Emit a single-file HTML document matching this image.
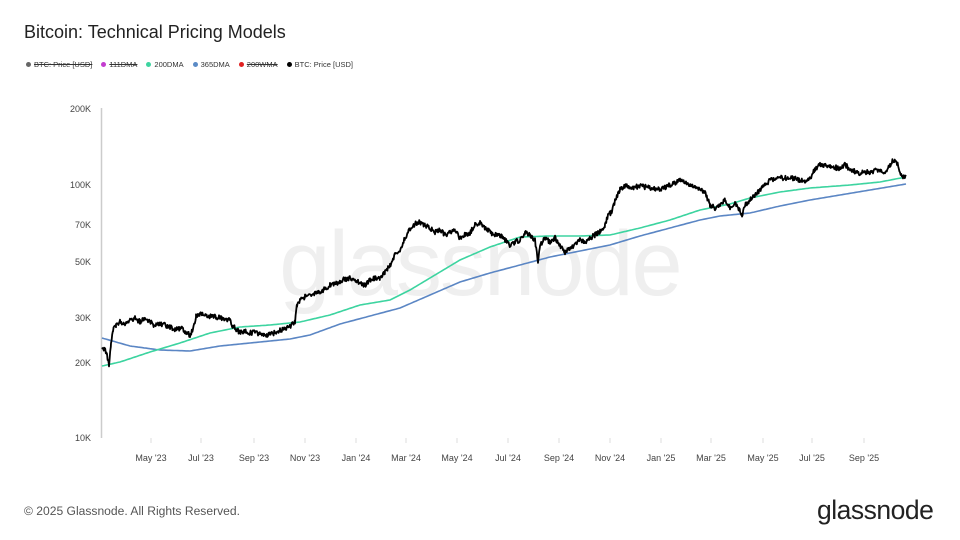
<!DOCTYPE html>
<html><head><meta charset="utf-8"><style>
body{margin:0;width:960px;height:540px;background:#fff;font-family:"Liberation Sans",sans-serif;overflow:hidden;position:relative}
.t{position:absolute;left:24px;top:22px;font-size:18px;color:#222}
.leg{position:absolute;left:26px;top:60px;font-size:7.5px;color:#333;white-space:nowrap}
.leg span{margin-right:9px}
.leg i{display:inline-block;width:5px;height:5px;border-radius:50%;margin-right:3px;vertical-align:0}
.s{text-decoration:line-through}
.f{position:absolute;left:24px;top:504px;font-size:12.1px;color:#555}
.l{position:absolute;left:817px;top:495px;font-size:26.5px;color:#222;letter-spacing:-0.5px}
</style></head><body>
<div class="t">Bitcoin: Technical Pricing Models</div>
<div class="leg"><span class="s"><i style="background:#666"></i>BTC: Price [USD]</span><span class="s"><i style="background:#c33ccf"></i>111DMA</span><span><i style="background:#3dd4a0"></i>200DMA</span><span><i style="background:#5b8bc6"></i>365DMA</span><span class="s"><i style="background:#e02020"></i>200WMA</span><span><i style="background:#000"></i>BTC: Price [USD]</span></div>
<svg width="960" height="540" style="position:absolute;left:0;top:0" font-family="Liberation Sans, sans-serif">
<text x="480" y="295" text-anchor="middle" font-size="92" fill="#efefef" letter-spacing="-2">glassnode</text>
<line x1="101.5" y1="108" x2="101.5" y2="438" stroke="#ccc" stroke-width="1.5"/>
<g font-size="9" fill="#444" text-anchor="end">
<text x="91" y="112">200K</text><text x="91" y="188">100K</text><text x="91" y="228">70K</text><text x="91" y="265">50K</text><text x="91" y="321">30K</text><text x="91" y="366">20K</text><text x="91" y="441">10K</text></g>
<g font-size="9" fill="#444" text-anchor="middle" id="xt"></g>
<g stroke="#ddd" id="xl"></g>
<polyline id="m365" fill="none" stroke="#5b86c4" stroke-width="1.6"/>
<polyline id="m200" fill="none" stroke="#3dd4a0" stroke-width="1.6"/>
<polyline id="pr" fill="none" stroke="#000" stroke-width="1.8" stroke-linejoin="round"/>
</svg>
<div class="f">© 2025 Glassnode. All Rights Reserved.</div>
<div class="l">glassnode</div>
<script>
var ns="http://www.w3.org/2000/svg";
var labs=[["May '23",151],["Jul '23",201],["Sep '23",254],["Nov '23",305],["Jan '24",356],["Mar '24",406],["May '24",457],["Jul '24",508],["Sep '24",559],["Nov '24",610],["Jan '25",661],["Mar '25",711],["May '25",763],["Jul '25",812],["Sep '25",864]];
labs.forEach(function(a){var t=document.createElementNS(ns,"text");t.setAttribute("x",a[1]);t.setAttribute("y",461);t.textContent=a[0];document.getElementById("xt").appendChild(t);
var l=document.createElementNS(ns,"line");l.setAttribute("x1",a[1]);l.setAttribute("x2",a[1]);l.setAttribute("y1",438);l.setAttribute("y2",443);document.getElementById("xl").appendChild(l);});
function interp(p,step,noise){var s=1234,out=[];function r(){s=(s*16807)%2147483647;return s/2147483647-0.5;}
for(var i=0;i<p.length-1;i++){var a=p[i],b=p[i+1];for(var x=a[0];x<b[0];x+=step){var y=a[1]+(b[1]-a[1])*(x-a[0])/(b[0]-a[0]);out.push(x.toFixed(1)+","+(y+noise*r()).toFixed(1));}}
out.push(p[p.length-1].join(","));return out.join(" ");}
var P=[[102,350],[104,348],[107,355],[109,364],[111,345],[113,330],[116,325],[120,322],[125,323],[130,320],[135,318],[140,322],[145,318],[150,322],[155,326],[160,324],[165,325],[170,327],[175,330],[180,328],[185,331],[190,335],[193,330],[196,316],[200,314],[210,316],[220,318],[230,320],[232,325],[240,333],[245,331],[250,333],[255,332],[260,334],[265,336],[270,334],[275,333],[280,330],[285,328],[290,326],[295,322],[297,305],[300,300],[305,297],[310,295],[315,293],[320,292],[325,289],[330,285],[335,284],[340,281],[345,279],[350,278],[355,281],[360,283],[365,285],[370,280],[375,278],[380,278],[385,272],[390,265],[395,255],[400,250],[405,238],[410,229],[415,224],[420,222],[425,225],[430,228],[435,232],[440,230],[445,235],[450,233],[455,231],[460,238],[465,235],[470,233],[475,225],[480,223],[485,228],[490,232],[495,235],[500,235],[505,240],[510,245],[515,242],[520,240],[525,232],[530,235],[535,240],[538,262],[540,245],[545,238],[550,242],[555,238],[560,245],[565,252],[570,248],[575,245],[580,240],[585,243],[590,238],[595,235],[600,232],[605,225],[608,215],[612,212],[615,200],[620,190],[625,186],[630,188],[640,186],[650,188],[660,190],[670,185],[680,180],[690,185],[700,190],[705,192],[710,205],[715,208],[720,205],[725,200],[730,207],[735,203],[740,210],[742,215],[745,205],[750,200],[755,195],[760,190],[765,185],[770,180],[780,178],[790,178],[800,180],[805,182],[810,178],[815,170],[820,165],[830,167],[840,168],[845,164],[850,170],[860,173],[870,172],[880,170],[885,172],[890,165],[893,160],[897,163],[900,172],[903,178],[906,175]];
var A=[[102,366],[120,362],[150,352],[180,343],[210,333],[240,327],[270,325],[300,322],[330,315],[360,305],[390,300],[410,290],[430,278],[460,260],[490,247],[520,237],[550,236],[580,236],[610,235],[640,228],[670,220],[700,210],[730,204],[750,198],[780,192],[810,188],[850,185],[880,182],[906,177]];
var B=[[102,338],[130,346],[160,350],[190,351],[220,346],[250,343],[290,339],[310,335],[340,324],[370,316],[400,308],[430,295],[460,282],[490,273],[520,265],[550,257],[580,251],[610,245],[640,236],[670,228],[700,220],[720,216],[750,213],[780,206],[810,200],[840,195],[870,190],[906,184]];
document.getElementById("pr").setAttribute("points",interp(P,0.6,5));
document.getElementById("m200").setAttribute("points",interp(A,2,0));
document.getElementById("m365").setAttribute("points",interp(B,2,0));
</script>
</body></html>
